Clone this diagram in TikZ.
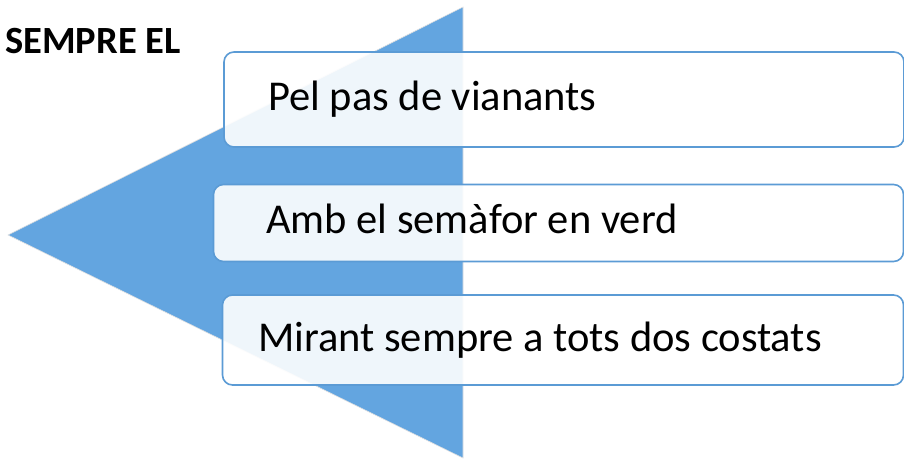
\documentclass[tikz,border=0pt]{standalone}
\usepackage{fontspec}
\setmainfont{Carlito}
\begin{document}
\begin{tikzpicture}[x=1pt,y=-1pt,
  arrowfill/.style={fill=arrowblue, draw=black!12, line width=0.6pt},
  itembox/.style={draw=boxblue, line width=1.6pt, fill=white, fill opacity=0.9,
    rounded corners=10pt, inner sep=0pt},
  itemtext/.style={anchor=base west, inner sep=0pt, font=\fontsize{42.5}{50}\selectfont, text=black},
  title/.style={anchor=base west, inner sep=0pt, font=\fontsize{38.5}{46}\selectfont\bfseries, text=black}]
\definecolor{arrowblue}{RGB}{99,165,224}
\definecolor{boxblue}{RGB}{91,155,213}
\useasboundingbox (0,0) rectangle (904,460);
\fill[white] (0,0) rectangle (904,460);
% big arrow (triangle)
\coordinate (apex) at (8,235);
\coordinate (top) at (463,7);
\coordinate (bot) at (463,458);
\path[arrowfill] (apex) -- (top) -- (bot) -- cycle;
% boxes
\node[itembox, minimum width=680pt, minimum height=95pt] (b1) at (564,99.5) {};
\node[itembox, minimum width=690pt, minimum height=77pt] (b2) at (558.5,223) {};
\node[itembox, minimum width=681pt, minimum height=90pt] (b3) at (563,340) {};
% texts
\node[itemtext] (t1) at (268,110) {Pel pas de vianants};
\node[itemtext] (t2) at (266,233) {Amb el semàfor en verd};
\node[itemtext] (t3) at (258,351) {Mirant sempre a tots dos costats};
\node[title] (tt) at (5,53) {SEMPRE EL};
\end{tikzpicture}
\end{document}
